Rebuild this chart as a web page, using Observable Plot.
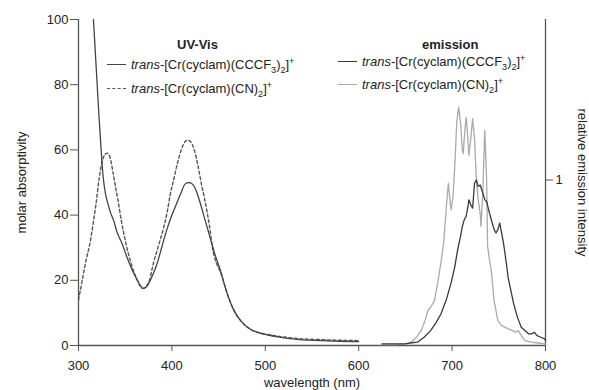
<!DOCTYPE html>
<html><head><meta charset="utf-8">
<script src="https://cdn.jsdelivr.net/npm/d3@7"></script>
<script src="https://cdn.jsdelivr.net/npm/@observablehq/plot@0.6"></script>
<style>
body{margin:0;background:#fff;font-family:"Liberation Sans",Arial,sans-serif;}
#wrap{position:relative;width:589px;height:390px;overflow:hidden;}
#wrap svg{position:absolute;left:0;top:0;}
.lg{position:absolute;font-size:13px;color:#222;white-space:nowrap;line-height:1;}
.lg i{font-style:italic;}
.hd{position:absolute;font-size:13px;font-weight:bold;color:#222;}
.sw{position:absolute;height:0;}
sub,sup{font-size:9px;line-height:0;}
</style></head>
<body><div id="wrap"></div>
<script>
// UV-Vis, trans-[Cr(cyclam)(CCCF3)2]+
const uvSolidWl = [316,318,320,322,324,326,328,331,334,338,341,347,352,357,362,366,369,372,376,380,384,389,394,400,405,410,414,418,422,426,430,435,441,446,452,458,466,474,484,492,502,515,537,560,580,600];
const uvSolidVal = [100,90,80,70,61,53,48,44,41,38,35,31,27,23.5,20.6,18.5,17.5,17.8,19.5,22,25,30,35,40,43.5,47,49.5,50,49.5,47.5,44,39,33,28,23,17,11,7.5,5,4,3.3,2.6,1.8,1.5,1.3,1.2];
// UV-Vis, trans-[Cr(cyclam)(CN)2]+
const uvDashWl = [300,304,308,312,316,319,322,325,328,331,334,337,340,342,346,351,356,362,366,369,372,376,380,385,391,395,398,402,406,410,414,417,420,424,428,432,435,440,444,448,452,458,466,474,484,492,502,515,537,560,580,600];
const uvDashVal = [14,20,26,31,38,44,51,56,58.5,59,57.5,53,48,45,38,31,25.5,20.6,18.3,17.5,18,20,25,30,36,41,46,51,56,60,62.5,63,62.5,60,55,49,45,37,29,25,22.5,17,11,7.5,5,4,3.4,2.8,2.1,1.8,1.6,1.5];
// emission, trans-[Cr(cyclam)(CCCF3)2]+
const emDarkWl = [625,640,650,655,663,670,677,683,688,694,699,703,706,709,711,713,715,717,718,720,722,724,726,728,730,733,735,737,740,742,745,747,749,751,753,755,758,760,763,766,770,774,778,782,785,788,791,795,799,800];
const emDarkVal = [0.01,0.01,0.01,0.015,0.02,0.05,0.09,0.14,0.19,0.28,0.38,0.48,0.58,0.66,0.72,0.76,0.78,0.84,0.88,0.85,0.83,0.98,1.0,0.96,0.97,0.92,0.88,0.87,0.8,0.76,0.7,0.68,0.7,0.74,0.68,0.62,0.5,0.41,0.33,0.25,0.17,0.11,0.09,0.07,0.07,0.08,0.06,0.05,0.04,0.03];
// emission, trans-[Cr(cyclam)(CN)2]+
const emLightWl = [625,640,650,656,662,667,671,674,678,681,683,685,688,691,694,696,698,699,701,703,705,707,709,711,712,713,715,716,718,720,722,724,726,728,730,731,733,735,737,738,740,742,745,749,753,757,760,765,768,771,774,778,785,792,800];
const emLightVal = [0.005,0.005,0.01,0.02,0.05,0.09,0.15,0.21,0.24,0.27,0.33,0.39,0.5,0.62,0.85,0.98,0.86,0.82,0.9,1.1,1.35,1.44,1.35,1.18,1.16,1.25,1.38,1.32,1.15,1.25,1.37,1.25,1.0,0.88,0.8,0.72,0.95,1.3,1.0,0.6,0.52,0.45,0.27,0.15,0.12,0.11,0.1,0.09,0.08,0.09,0.06,0.03,0.02,0.015,0.01];
const xTicks = [300,400,500,600,700,800];
const yTicks = [0,20,40,60,80,100];
const emTicks = [1];

const uvSolid = uvSolidWl.map((w,i)=>({w, v: uvSolidVal[i]}));
const uvDash = uvDashWl.map((w,i)=>({w, v: uvDashVal[i]}));
const emDark = emDarkWl.map((w,i)=>({w, v: emDarkVal[i]}));
const emLight = emLightWl.map((w,i)=>({w, v: emLightVal[i]}));

const W = 589, H = 390;
const M = {marginTop:19, marginRight:44, marginBottom:45, marginLeft:78};
const style = {fontSize:"13px", fontFamily:"'Liberation Sans',Arial,sans-serif", color:"#222", background:"transparent", overflow:"visible"};
const axisColor = "#555";

const p1 = Plot.plot({
  width: W, height: H, ...M, style,
  x: {domain:[300,800]},
  y: {domain:[0,100]},
  marks: [
    Plot.axisX({ticks: xTicks, tickSize: 6, tickPadding: 9, stroke: axisColor, label: "wavelength (nm)", labelAnchor: "center", labelOffset: 41, labelArrow: "none"}),
    Plot.axisY({ticks: yTicks, tickSize: 8, tickPadding: 2, stroke: axisColor, label: "molar absorptivity", labelAnchor: "center", labelOffset: 62, labelArrow: "none"}),
    Plot.ruleX([300], {stroke: axisColor, strokeWidth: 1.3}),
    Plot.ruleY([0], {stroke: axisColor, strokeWidth: 1.3}),
    Plot.line(uvDash, {x:"w", y:"v", stroke:"#555", strokeWidth:1.4, strokeDasharray:"3,2.5", curve:"monotone-x"}),
    Plot.line(uvSolid, {x:"w", y:"v", stroke:"#444", strokeWidth:1.3, curve:"monotone-x"})
  ]
});

const p2 = Plot.plot({
  width: W, height: H, ...M, style,
  x: {domain:[300,800], axis: null},
  y: {domain:[0, 325/165]},
  marks: [
    Plot.axisY({anchor:"right", ticks: emTicks, tickFormat: d3.format("d"), tickSize: 7, tickPadding: 3, stroke: axisColor, label: null}),
    Plot.text(["relative emission intensity"], {frameAnchor: "right", textAnchor: "middle", rotate: 90, dx: 37, fontSize: 13, fill: "#222"}),
    Plot.ruleX([800], {stroke: axisColor, strokeWidth: 1.3}),
    Plot.line(emLight, {x:"w", y:"v", stroke:"#aaa", strokeWidth:1.3}),
    Plot.line(emDark, {x:"w", y:"v", stroke:"#3a3a3a", strokeWidth:1.3})
  ]
});

const wrap = document.getElementById("wrap");
wrap.appendChild(p1);
wrap.appendChild(p2);

function addHtml(html){ const d = document.createElement("div"); d.innerHTML = html; while(d.firstChild) wrap.appendChild(d.firstChild); }
addHtml(`
<div class="hd" style="left:177px;top:37px;">UV-Vis</div>
<div class="sw" style="left:107px;top:64px;width:19px;border-top:1.4px solid #444;"></div>
<div class="lg" style="left:131px;top:58px;"><i>trans</i>-[Cr(cyclam)(CCCF<sub>3</sub>)<sub>2</sub>]<sup>+</sup></div>
<div class="sw" style="left:107px;top:88px;width:19px;border-top:1.4px dashed #555;"></div>
<div class="lg" style="left:131px;top:82px;"><i>trans</i>-[Cr(cyclam)(CN)<sub>2</sub>]<sup>+</sup></div>
<div class="hd" style="left:422px;top:37px;">emission</div>
<div class="sw" style="left:338px;top:61px;width:19px;border-top:1.4px solid #3a3a3a;"></div>
<div class="lg" style="left:362px;top:55px;"><i>trans</i>-[Cr(cyclam)(CCCF<sub>3</sub>)<sub>2</sub>]<sup>+</sup></div>
<div class="sw" style="left:338px;top:84px;width:19px;border-top:1.4px solid #aaa;"></div>
<div class="lg" style="left:362px;top:78px;"><i>trans</i>-[Cr(cyclam)(CN)<sub>2</sub>]<sup>+</sup></div>
`);
</script></body></html>
